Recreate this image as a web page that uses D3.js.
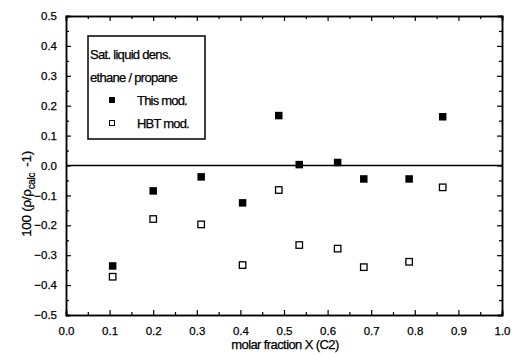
<!DOCTYPE html>
<html>
<head>
<meta charset="utf-8">
<script src="https://cdn.jsdelivr.net/npm/d3@7"></script>
<style>
  body { margin: 0; background: #fff; }
  svg { font-family: "Liberation Sans", Arial, sans-serif; }
  svg text { stroke: #000; stroke-width: 0.25px; }
</style>
</head>
<body>
<figure id="chart" style="margin:0"></figure>
<script>
// data
const molarX = [0.107, 0.2, 0.31, 0.405, 0.488, 0.535, 0.623, 0.683, 0.787, 0.864];
const thisMod = [-0.336, -0.085, -0.038, -0.125, 0.167, 0.003, 0.01, -0.045, -0.045, 0.163];
const hbtMod = [-0.372, -0.179, -0.197, -0.333, -0.082, -0.266, -0.278, -0.34, -0.322, -0.073];
const xTicks = [0, 0.1, 0.2, 0.3, 0.4, 0.5, 0.6, 0.7, 0.8, 0.9, 1.0];
const yTicks = [-0.5, -0.4, -0.3, -0.2, -0.1, 0, 0.1, 0.2, 0.3, 0.4, 0.5];
const legendLines = ["Sat. liquid dens.", "ethane / propane"];
const legendSeries = ["This mod.", "HBT mod."];

const width = 512, height = 354;
const margin = { left: 66, right: 10, top: 16, bottom: 39 };
const w = width - margin.left - margin.right;
const h = height - margin.top - margin.bottom;

const svg = d3.select("#chart").append("svg")
  .attr("width", width)
  .attr("height", height);

const g = svg.append("g")
  .attr("transform", "translate(" + margin.left + "," + margin.top + ")");

const x = d3.scaleLinear().domain([0, 1]).range([0, w]);
const y = d3.scaleLinear().domain([-0.5, 0.5]).range([h, 0]);

const minorX = d3.range(0.05, 1, 0.1);
const minorY = d3.range(-0.45, 0.5, 0.1);

// bottom axis with labels, ticks pointing inward
g.append("g")
  .attr("transform", "translate(0," + h + ")")
  .call(d3.axisBottom(x).tickValues(xTicks).tickSize(-5).tickPadding(12)
    .tickFormat(d3.format(".1f")));
g.append("g").attr("transform", "translate(0," + h + ")")
  .call(d3.axisBottom(x).tickValues(minorX).tickSize(-3).tickFormat(""));

// left axis
g.append("g")
  .call(d3.axisLeft(y).tickValues(yTicks).tickSize(-5).tickPadding(9)
    .tickFormat(d3.format(".1f")));
g.append("g")
  .call(d3.axisLeft(y).tickValues(minorY).tickSize(-3).tickFormat(""));

// top and right mirror ticks
g.append("g").call(d3.axisTop(x).tickValues(xTicks).tickSize(-5).tickFormat(""));
g.append("g").call(d3.axisTop(x).tickValues(minorX).tickSize(-3).tickFormat(""));
g.append("g").attr("transform", "translate(" + w + ",0)")
  .call(d3.axisRight(y).tickValues(yTicks).tickSize(-5).tickFormat(""));
g.append("g").attr("transform", "translate(" + w + ",0)")
  .call(d3.axisRight(y).tickValues(minorY).tickSize(-3).tickFormat(""));

g.selectAll(".domain").attr("stroke", "#000").attr("stroke-width", 1.5);
g.selectAll(".tick line").attr("stroke", "#000").attr("stroke-width", 1.2);
g.selectAll(".tick text")
  .attr("fill", "#000")
  .style("font-size", "11.5px")
  .style("font-family", "Liberation Sans, Arial, sans-serif");

// zero line
g.append("line")
  .attr("x1", 0).attr("x2", w)
  .attr("y1", y(0)).attr("y2", y(0))
  .attr("stroke", "#000").attr("stroke-width", 1.3);

// points
const sz = 7.5;
g.append("g").selectAll("rect")
  .data(molarX)
  .enter()
  .append("rect")
  .attr("x", (d, i) => x(d) - sz / 2)
  .attr("y", (d, i) => y(thisMod[i]) - sz / 2)
  .attr("width", sz).attr("height", sz)
  .attr("fill", "#000");

g.append("g").selectAll("rect")
  .data(molarX)
  .enter()
  .append("rect")
  .attr("x", (d, i) => x(d) - (sz - 1) / 2)
  .attr("y", (d, i) => y(hbtMod[i]) - (sz - 1) / 2)
  .attr("width", sz - 1).attr("height", sz - 1)
  .attr("fill", "#fff")
  .attr("stroke", "#000")
  .attr("stroke-width", 1.3);

// legend
const lg = svg.append("g").attr("transform", "translate(88,36)");
lg.append("rect")
  .attr("width", 117).attr("height", 103)
  .attr("fill", "#fff").attr("stroke", "#000").attr("stroke-width", 1.5);
lg.selectAll("text.hdr")
  .data(legendLines)
  .enter()
  .append("text")
  .attr("class", "hdr")
  .attr("x", 2)
  .attr("y", (d, i) => 23 + i * 23)
  .style("font-size", "13px")
  .style("letter-spacing", "-0.7px")
  .text(d => d);
lg.selectAll("text.ser")
  .data(legendSeries)
  .enter()
  .append("text")
  .attr("class", "ser")
  .attr("x", 49)
  .attr("y", (d, i) => 69 + i * 23)
  .style("font-size", "13px")
  .style("letter-spacing", "-0.8px")
  .text(d => d);
lg.append("rect")
  .attr("x", 21).attr("y", 61).attr("width", 6).attr("height", 6).attr("fill", "#000");
lg.append("rect")
  .attr("x", 21.5).attr("y", 84.5).attr("width", 5).attr("height", 5)
  .attr("fill", "#fff").attr("stroke", "#000").attr("stroke-width", 1);

// axis labels
svg.append("text")
  .attr("x", 285)
  .attr("y", 349)
  .attr("text-anchor", "middle")
  .style("font-size", "13px")
  .style("letter-spacing", "-0.6px")
  .text("molar fraction X (C2)");

const yl = svg.append("text")
  .attr("transform", "translate(31,194) rotate(-90)")
  .attr("text-anchor", "middle")
  .style("font-size", "13.5px")
  .style("letter-spacing", "-0.3px");
yl.append("tspan").text("100 (\u03C1/\u03C1");
yl.append("tspan").attr("dy", 4).style("font-size", "10px").text("calc");
yl.append("tspan").attr("dy", -4).attr("dx", 6).text("-1)");
</script>
</body>
</html>
